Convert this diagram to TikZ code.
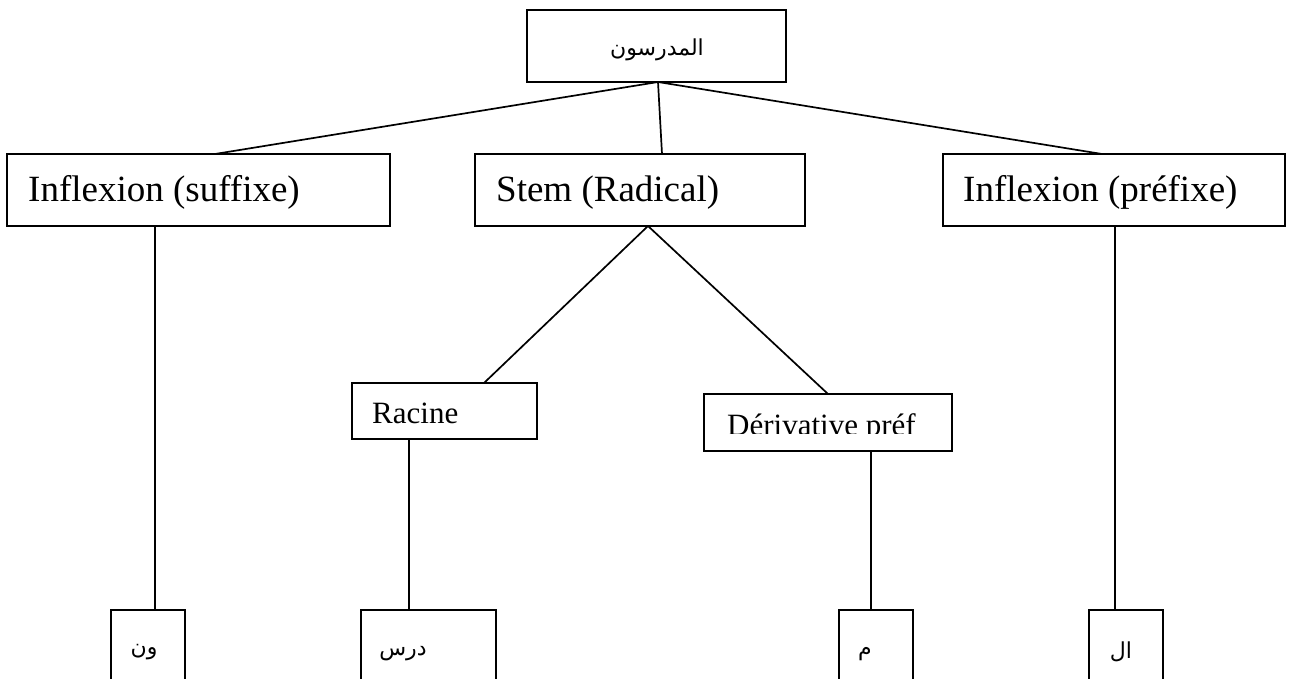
\documentclass[tikz,border=0pt]{standalone}
\usepackage{fontspec}
\setmainfont{Liberation Serif}
\newfontfamily\arabicfont[Script=Arabic]{DejaVu Sans}
\TeXXeTstate=1
\begin{document}
\begin{tikzpicture}[x=1pt,y=-1pt,
  box/.style={draw, line width=1.7pt, anchor=north west, inner sep=0pt, outer sep=0pt},
  link/.style={line width=1.7pt},
  big/.style={font=\fontsize{37}{44}\selectfont, anchor=base west, inner sep=0pt},
  mid/.style={font=\fontsize{31}{37}\selectfont, anchor=base west, inner sep=0pt},
  ar/.style={font=\arabicfont\fontsize{22}{26}\selectfont, inner sep=0pt}]
\useasboundingbox (0,0) rectangle (1289,679);
\clip (0,0) rectangle (1289,679);

% boxes
\node[box, minimum width=259pt, minimum height=72pt] (root) at (527,10) {};
\node[box, minimum width=383pt, minimum height=72pt] (sfx)  at (7,154) {};
\node[box, minimum width=330pt, minimum height=72pt] (stem) at (475,154) {};
\node[box, minimum width=342pt, minimum height=72pt] (pfx)  at (943,154) {};
\node[box, minimum width=185pt, minimum height=56pt] (rac)  at (352,383) {};
\node[box, minimum width=248pt, minimum height=57pt] (der)  at (704,394) {};
\node[box, minimum width=74pt,  minimum height=100pt] (b1) at (111,610) {};
\node[box, minimum width=135pt, minimum height=100pt] (b2) at (361,610) {};
\node[box, minimum width=74pt,  minimum height=100pt] (b3) at (839,610) {};
\node[box, minimum width=74pt,  minimum height=100pt] (b4) at (1089,610) {};

% labels
\node[ar] (troot) at (657,50) {\beginR المدرسون\endR};
\node[big] (tsfx)  at (28,201)  {Inflexion (suffixe)};
\node[big] (tstem) at (496,201) {Stem (Radical)};
\node[big] (tpfx)  at (963,201) {Inflexion (préfixe)};
\node[mid] (trac)  at (372,423) {Racine};
\begin{scope}
  \clip (704,394) rectangle (952,433);
  \node[mid] (tder) at (727,435) {Dérivative préf};
\end{scope}
\node[ar] (t1) at (144,652) {\beginR ون\endR};
\node[ar] (t2) at (403,654) {\beginR درس\endR};
\node[ar] (t3) at (865,654) {\beginR م\endR};
\node[ar] (t4) at (1121,652) {\beginR ال\endR};

% connectors
\draw[link] ([xshift=1.5pt]root.south) -- ([xshift=16.5pt]sfx.north);
\draw[link] ([xshift=1.5pt]root.south) -- ([xshift=22pt]stem.north);
\draw[link] ([xshift=1.5pt]root.south) -- ([xshift=-12pt]pfx.north);
\draw[link] ([xshift=8pt]stem.south) -- ([xshift=39.5pt]rac.north);
\draw[link] ([xshift=8pt]stem.south) -- (der.north);
\draw[link] ([xshift=-43.5pt]sfx.south) -- ([xshift=-43.5pt]sfx.south |- b1.north);
\draw[link] ([xshift=-35.5pt]rac.south) -- ([xshift=-35.5pt]rac.south |- b2.north);
\draw[link] ([xshift=43pt]der.south) -- ([xshift=43pt]der.south |- b3.north);
\draw[link] ([xshift=1pt]pfx.south) -- ([xshift=1pt]pfx.south |- b4.north);
\end{tikzpicture}
\end{document}
